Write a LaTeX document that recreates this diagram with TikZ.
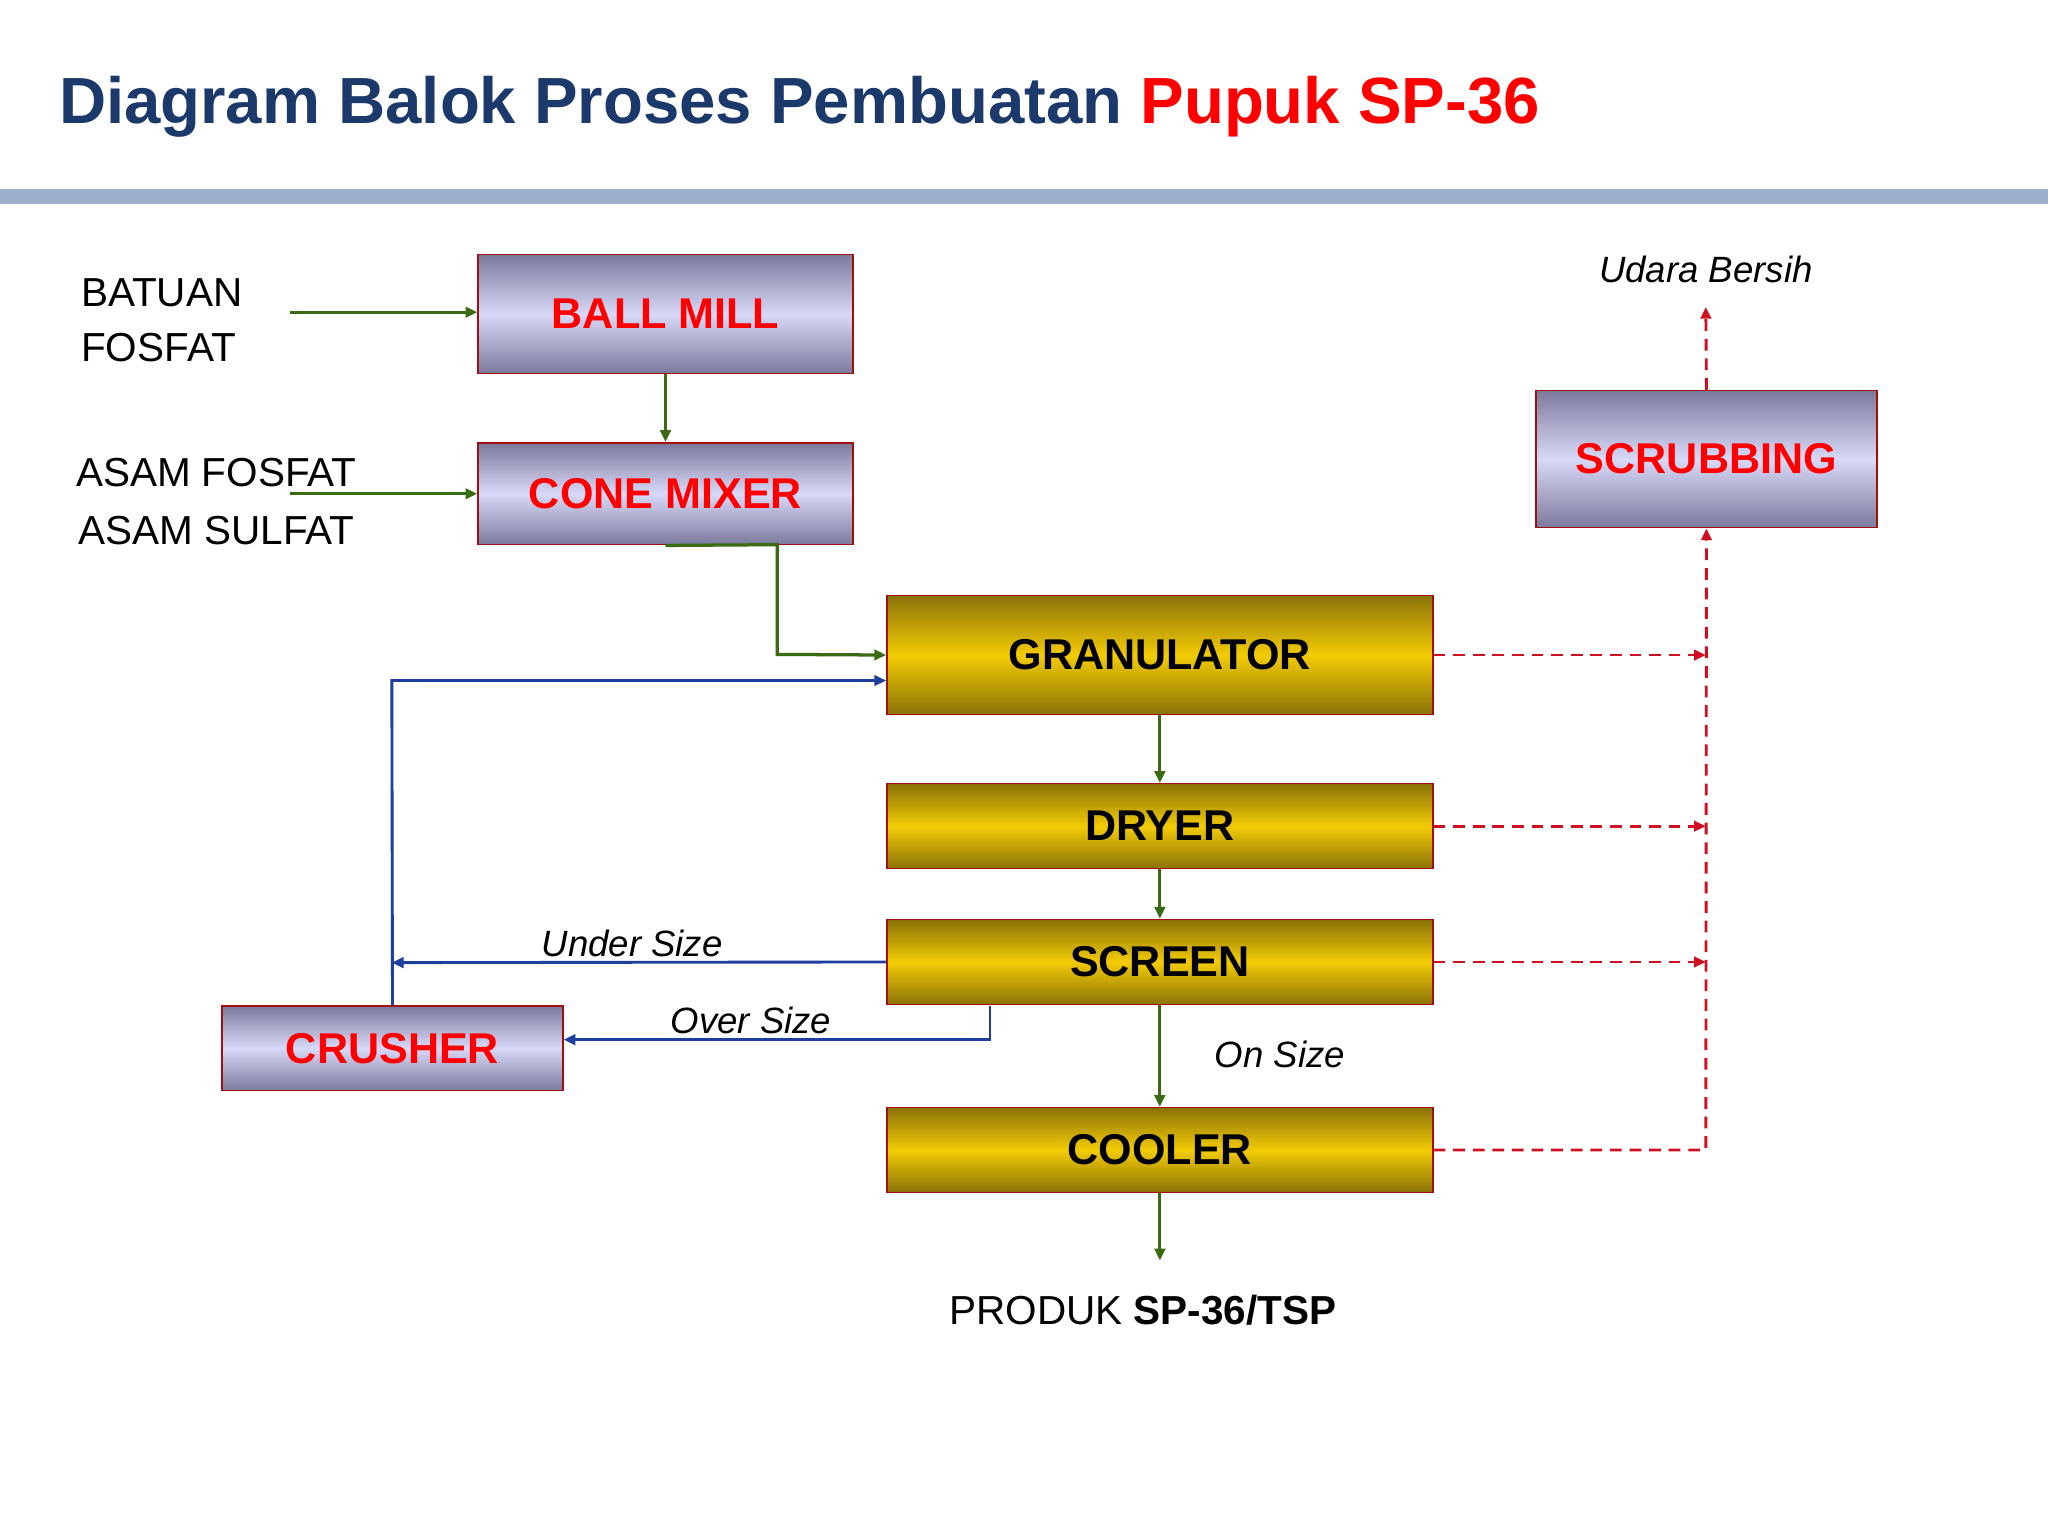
\documentclass[tikz,border=0pt]{standalone}
\usepackage{fontspec}
\setmainfont{Liberation Sans}
\usetikzlibrary{arrows.meta}
\definecolor{navy}{HTML}{1B3A6B}
\definecolor{grn}{HTML}{3A6B10}
\definecolor{blu}{HTML}{1F3F9F}
\definecolor{rd}{HTML}{D01020}
\definecolor{bord}{HTML}{A01010}
\definecolor{pdark}{HTML}{7C7A9C}
\definecolor{plight}{HTML}{D8D8F8}
\definecolor{gdark}{HTML}{8A7208}
\definecolor{glight}{HTML}{F3CB05}
\definecolor{bar}{HTML}{9AB0CC}
\tikzset{
 purp/.style={draw=bord,line width=1.2pt,top color=pdark,bottom color=pdark,middle color=plight,text=red,font=\fontsize{33}{36}\selectfont\bfseries,inner sep=0pt},
 gold/.style={draw=bord,line width=1.2pt,top color=gdark,bottom color=gdark,middle color=glight,text=black,font=\fontsize{33}{36}\selectfont\bfseries,inner sep=0pt},
 ga/.style={draw=grn,line width=2.5pt,-{Triangle[length=9pt,width=8pt]}},
 ba/.style={draw=blu,line width=2.2pt,-{Triangle[length=9pt,width=8pt]}},
 ra/.style={draw=rd,line width=2.2pt,dash pattern=on 9pt off 6pt,-{Triangle[length=9pt,width=8pt]}},
 lbl/.style={font=\fontsize{31}{34}\selectfont,anchor=west,inner sep=0pt},
 il/.style={font=\fontsize{28}{30}\selectfont\itshape,inner sep=0pt}
}
\begin{document}
\begin{tikzpicture}[x=1pt,y=-1pt]
\useasboundingbox (0,0) rectangle (1568,1176);
\fill[white] (0,0) rectangle (1568,1176);
\fill[bar] (0,145) rectangle (1568,156);
\node[anchor=west,inner sep=0pt,font=\fontsize{50}{54}\selectfont\bfseries] (title) at (45,82) {\textcolor{navy}{Diagram Balok Proses Pembuatan} \textcolor{red}{Pupuk SP-36}};
\node[purp,minimum width=287,minimum height=91] (bm) at (509.5,240.5) {BALL MILL};
\node[purp,minimum width=287,minimum height=78] (cm) at (509.5,378) {CONE MIXER};
\node[gold,minimum width=418,minimum height=91] (gr) at (888,501.5) {GRANULATOR};
\node[gold,minimum width=418,minimum height=65] (dr) at (888,632.5) {DRYER};
\node[gold,minimum width=418,minimum height=65] (sc) at (888,736.5) {SCREEN};
\node[gold,minimum width=418,minimum height=65] (co) at (888,880.5) {COOLER};
\node[purp,minimum width=261,minimum height=105] (scr) at (1306.5,351.5) {SCRUBBING};
\node[purp,minimum width=261,minimum height=65] (cr) at (300.5,802.5) {CRUSHER};
\node[lbl] (bf1) at (62,224) {BATUAN};
\node[lbl] (bf2) at (62,266) {FOSFAT};
\node[lbl] (af1) at (58,362) {ASAM FOSFAT};
\node[lbl] (af2) at (60,406) {ASAM SULFAT};
\node[inner sep=0pt,font=\fontsize{31}{34}\selectfont] (prod) at (875,1003) {PRODUK \textbf{SP-36/TSP}};
\node[il] (ub) at (1306,206) {Udara Bersih};
\node[il] (us) at (484,722) {Under Size};
\node[il] (os) at (575,781) {Over Size};
\node[il] (ons) at (980,807) {On Size};
\coordinate (a1) at (222,239);
\coordinate (a2) at (222,378);
\coordinate (pe) at (888,965);
\coordinate (ue) at (1306,235);
\draw[ga] (a1) -- (bm.west |- a1);
\draw[ga] (a2) -- (cm.west |- a2);
\draw[ga] (bm.south) -- (cm.north);
\draw[ga] (cm.south) -- (595,417) -- (595,501) -- (gr.west);
\draw[ga] (gr.south) -- (dr.north);
\draw[ga] (dr.south) -- (sc.north);
\draw[ga] (sc.south) -- (co.north);
\draw[ga] (co.south) -- (pe);
\draw[ba] (sc.west) -- (300,737);
\draw[ba] (cr.north) -- (300,521) -- (gr.west |- 0,521);
\draw[ba] (758,770) -- (758,796) -- (cr.east |- 0,796);
\draw[ra] (gr.east) -- (1306,501.5);
\draw[ra] (dr.east) -- (1306,632.5);
\draw[ra] (sc.east) -- (1306,736.5);
\draw[ra] (co.east) -- (1306,880.5) -- (scr.south);
\draw[ra] (scr.north) -- (ue);
\end{tikzpicture}
\end{document}
